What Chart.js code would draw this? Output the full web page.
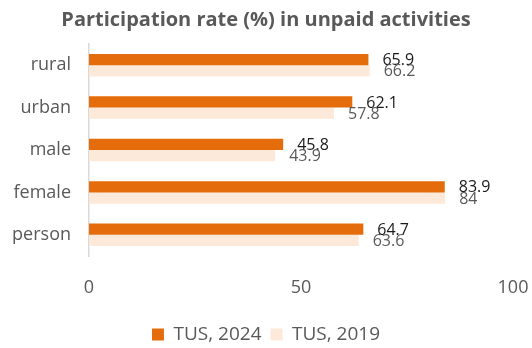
<!DOCTYPE html>
<html>
<head>
<meta charset="utf-8">
<script src="https://cdn.jsdelivr.net/npm/chart.js@4"></script>
<style>
  html, body { margin: 0; padding: 0; background: #fff; }
  #wrap { width: 532px; height: 348px; }
</style>
</head>
<body>
<div id="wrap"><canvas id="chart" width="532" height="348"></canvas></div>
<script>
// Participation in unpaid activities, by group
const groups = ["rural", "urban", "male", "female", "person"];
const tus2024 = [65.9, 62.1, 45.8, 83.9, 64.7];
const tus2019 = [66.2, 57.8, 43.9, 84, 63.6];
const xTicks = [0, 50, 100];

const FONT = "'Open Sans', sans-serif";

// value labels drawn just past the end of each bar
const valueLabels = {
  id: "valueLabels",
  afterDatasetsDraw(chart) {
    const ctx = chart.ctx;
    ctx.save();
    ctx.font = "16px " + FONT;
    ctx.textAlign = "left";
    ctx.textBaseline = "middle";
    chart.data.datasets.forEach((ds, i) => {
      const meta = chart.getDatasetMeta(i);
      ctx.fillStyle = ds.labelColor;
      meta.data.forEach((bar, j) => {
        ctx.fillText(String(ds.data[j]), bar.x + 14, bar.y + 1);
      });
    });
    ctx.restore();
  }
};

new Chart(document.getElementById("chart"), {
  type: "bar",
  data: {
    labels: groups,
    datasets: [
      {
        label: "TUS, 2024",
        data: tus2024,
        backgroundColor: "#E46C0A",
        labelColor: "#1a1a1a",
        categoryPercentage: 0.53,
        barPercentage: 1
      },
      {
        label: "TUS, 2019",
        data: tus2019,
        backgroundColor: "#FDE9D9",
        labelColor: "#595959",
        categoryPercentage: 0.53,
        barPercentage: 1
      }
    ]
  },
  options: {
    indexAxis: "y",
    responsive: false,
    animation: false,
    layout: { padding: { left: 0, right: 0, top: 4, bottom: -6 } },
    scales: {
      x: {
        min: 0,
        max: 100,
        afterBuildTicks(scale) {
          scale.ticks = xTicks.map(v => ({ value: v }));
        },
        afterFit(scale) {
          scale.paddingLeft = 0;
          scale.paddingRight = 19;
          scale.height = 60;
        },
        grid: { display: false, drawTicks: false },
        border: { display: false },
        ticks: { color: "#595959", font: { family: FONT, size: 18 }, padding: 21 }
      },
      y: {
        afterFit(scale) { scale.width = 89; },
        grid: { display: false, drawTicks: false },
        border: { display: true, color: "#d9d9d9", width: 1.5 },
        ticks: { color: "#595959", font: { family: FONT, size: 18 }, padding: 18 }
      }
    },
    plugins: {
      title: {
        display: true,
        text: "Participation rate (%) in unpaid activities",
        color: "#595959",
        font: { family: FONT, size: 20, weight: "bold" },
        padding: { top: 4, bottom: 12 }
      },
      legend: {
        position: "bottom",
        labels: {
          color: "#595959",
          font: { family: FONT, size: 19 },
          boxWidth: 12,
          boxHeight: 12,
          padding: 9
        }
      },
      tooltip: { enabled: false }
    }
  },
  plugins: [valueLabels]
});
</script>
</body>
</html>
